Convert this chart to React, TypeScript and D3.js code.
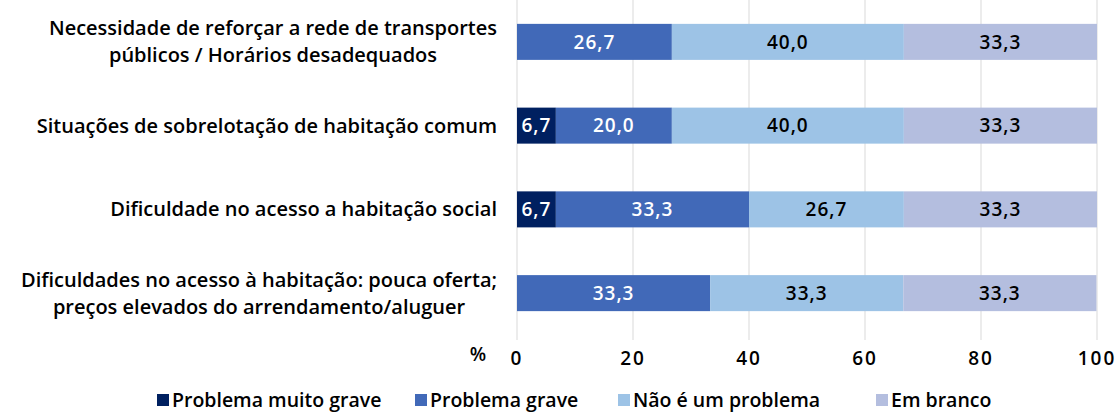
import React, { useEffect, useRef } from "react";
import * as d3 from "d3";

const categories = [
  ["Necessidade de reforçar a rede de transportes", "públicos / Horários desadequados"],
  ["Situações de sobrelotação de habitação comum"],
  ["Dificuldade no acesso a habitação social"],
  ["Dificuldades no acesso à habitação: pouca oferta;", "preços elevados do arrendamento/aluguer"],
];
const seriesNames = ["Problema muito grave", "Problema grave", "Não é um problema", "Em branco"];
const muitoGrave = [0, 6.7, 6.7, 0];
const grave = [26.7, 20.0, 33.3, 33.3];
const naoProblema = [40.0, 40.0, 26.7, 33.3];
const emBranco = [33.3, 33.3, 33.3, 33.3];
const xTicks = [0, 20, 40, 60, 80, 100];

const colors = ["#002060", "#4169B8", "#9DC3E6", "#B4BEDF"];
const labelColors = ["#fff", "#fff", "#000", "#000"];
const FONT = "'Open Sans', sans-serif";

export default function App() {
  const ref = useRef<SVGSVGElement>(null);
  useEffect(() => {
    const svg = d3.select(ref.current);
    svg.selectAll("*").remove();
    const W = 1120, H = 414;
    const x = d3.scaleLinear().domain([0, 100]).range([517, 1097]);
    const y = d3.scaleBand<number>().domain([0, 1, 2, 3]).range([0, 335]).paddingInner(0.57).paddingOuter(0.285);
    const series = [muitoGrave, grave, naoProblema, emBranco];

    svg.append("g").selectAll("line").data(xTicks).join("line")
      .attr("x1", d => x(d)).attr("x2", d => x(d))
      .attr("y1", 0).attr("y2", 340)
      .attr("stroke", "#d9d9d9").attr("stroke-width", 1);

    const gBars = svg.append("g");
    categories.forEach((_, i) => {
      let cum = 0;
      series.forEach((s, k) => {
        const v = s[i];
        if (v > 0) {
          gBars.append("rect")
            .attr("x", x(cum)).attr("y", y(i)!)
            .attr("width", x(cum + v) - x(cum)).attr("height", y.bandwidth())
            .attr("fill", colors[k]);
          gBars.append("text")
            .attr("x", (x(cum) + x(cum + v)) / 2)
            .attr("y", y(i)! + y.bandwidth() / 2)
            .attr("dy", "0.35em")
            .attr("text-anchor", "middle")
            .attr("font-family", FONT).attr("font-size", 19).attr("font-weight", 600)
            .attr("letter-spacing", 1)
            .attr("fill", labelColors[k])
            .text(v.toFixed(1).replace(".", ","));
        }
        cum += v;
      });
    });

    const gLab = svg.append("g").attr("font-family", FONT).attr("font-size", 20).attr("font-weight", 600).attr("fill", "#000");
    categories.forEach((lines, i) => {
      const cy = y(i)! + y.bandwidth() / 2;
      const texts = lines.map((l, j) =>
        gLab.append("text")
          .attr("y", cy + (j - (lines.length - 1) / 2) * 27)
          .attr("dy", "0.35em")
          .attr("text-anchor", "middle")
          .text(l)
      );
      const maxW = d3.max(texts, t => (t.node() as SVGTextElement).getComputedTextLength()) || 0;
      texts.forEach(t => t.attr("x", 497 - maxW / 2));
    });

    svg.append("g").selectAll("text").data(xTicks).join("text")
      .attr("x", d => x(d)).attr("y", 358).attr("dy", "0.35em")
      .attr("text-anchor", "middle")
      .attr("font-family", FONT).attr("font-size", 19).attr("font-weight", 600).attr("letter-spacing", 2)
      .text(d => String(d));
    svg.append("text").attr("x", 478).attr("y", 354).attr("dy", "0.35em")
      .attr("text-anchor", "middle").attr("font-family", FONT).attr("font-size", 19).attr("font-weight", 600)
      .text("%");

    const legX = [157, 415, 618, 876];
    const gLeg = svg.append("g");
    seriesNames.forEach((n, k) => {
      gLeg.append("rect").attr("x", legX[k]).attr("y", 394).attr("width", 12).attr("height", 12).attr("fill", colors[k]);
      gLeg.append("text").attr("x", legX[k] + 15).attr("y", 400).attr("dy", "0.35em")
        .attr("font-family", FONT).attr("font-size", 19.5).attr("font-weight", 600).text(n);
    });
    svg.attr("width", W).attr("height", H);
  }, []);
  return (
    <svg ref={ref} width={1120} height={414} style={{ position: "absolute", left: 0, top: 0, background: "#fff" }} />
  );
}
